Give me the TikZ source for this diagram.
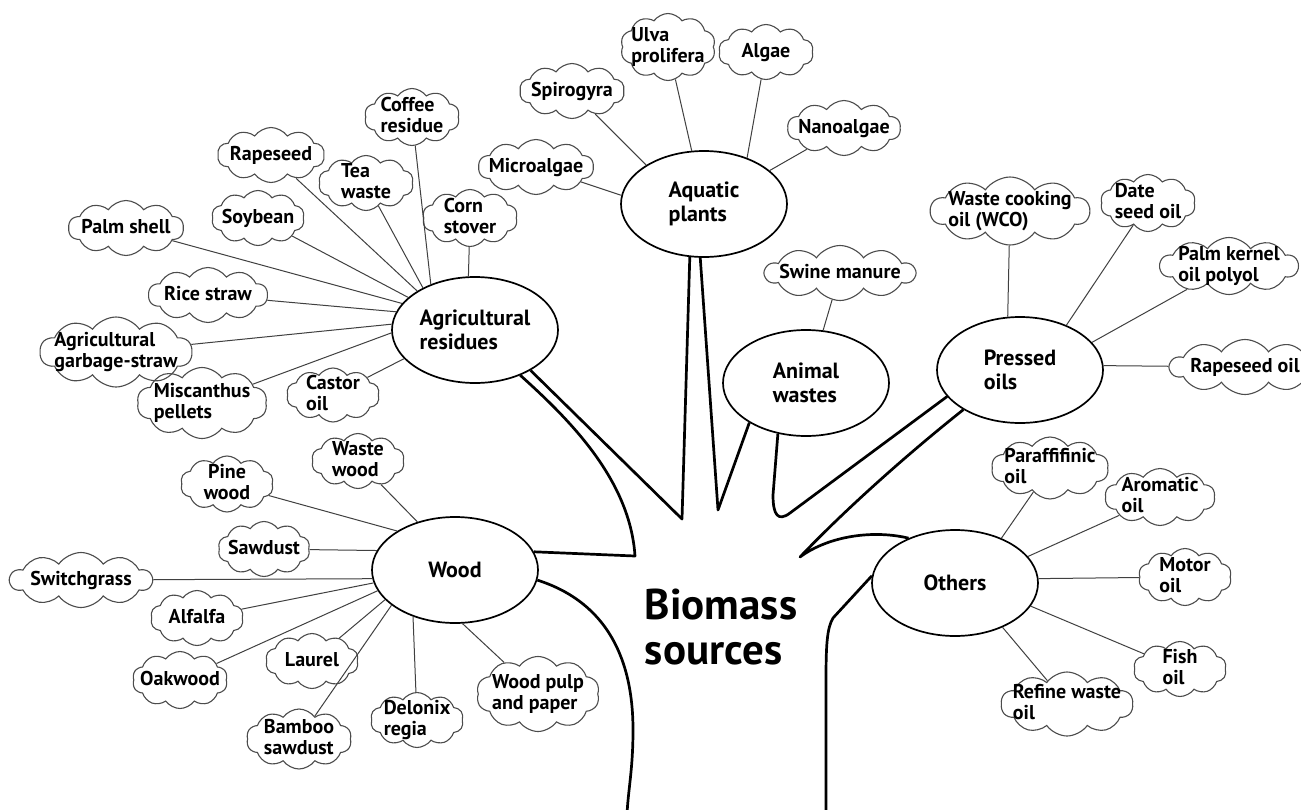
\documentclass[tikz,border=0pt]{standalone}
\usepackage{fontspec}
\setmainfont{PT Sans}
\usetikzlibrary{shapes.geometric,shapes.symbols}

\newcommand{\puffl}[1]{\smash{\raisebox{-6pt}{\makebox[0pt]{\begin{tabular}{@{}l@{}}#1\end{tabular}}}}}
\newcommand{\puffc}[1]{\smash{\raisebox{-6pt}{\makebox[0pt]{\begin{tabular}{@{}c@{}}#1\end{tabular}}}}}

\tikzset{
  group/.style = {draw, ellipse, line width=1.7pt, minimum width=166pt,
    minimum height=106pt, inner sep=0pt, align=left,
    font=\fontsize{22}{24}\selectfont\bfseries},
  puff/.style 2 args = {draw=black!70, cloud, cloud puffs=10,
    cloud puff arc=110, cloud ignores aspect, inner sep=0pt,
    line width=1.1pt, minimum width=#1pt, minimum height=#2pt,
    font=\fontsize{20}{21}\selectfont\bfseries},
  twig/.style = {draw=black!75, line width=1pt},
  trunk/.style = {line width=2.7pt, line join=round},
}

\begin{document}
\begin{tikzpicture}[x=1pt, y=-1pt]
  \useasboundingbox (0,0) rectangle (1301,809);
  \fill[white] (0,0) rectangle (1301,809);

  % groups
  \node[group] (aquatic) at (704,204) {Aquatic\\plants};
  \node[group] (agri) at (475,330) {Agricultural\\residues};
  \node[group] (animal) at (806,383) {Animal\\wastes};
  \node[group] (pressed) at (1020,370) {Pressed\\oils};
  \node[group] (wood) at (455,570) {Wood};
  \node[group] (others) at (955,583) {Others};
  \node[font=\fontsize{43}{45}\selectfont\bfseries, align=left]
    (biomass) at (721,627) {Biomass\\sources};

  % agricultural residues
  \node[puff={95}{57}] (coffee) at (412,117) {\puffl{Coffee\\residue}};
  \node[puff={107}{55}] (rape) at (271,155) {\puffl{Rapeseed}};
  \node[puff={95}{55}] (tea) at (366,183) {\puffl{Tea\\waste}};
  \node[puff={93}{55}] (soy) at (258,218) {\puffl{Soybean}};
  \node[puff={95}{57}] (corn) at (470,218) {\puffl{Corn\\stover}};
  \node[puff={115}{55}] (palm) at (126,228) {\puffl{Palm shell}};
  \node[puff={119}{55}] (rice) at (208,295) {\puffl{Rice straw}};
  \node[puff={152}{70}] (garbage) at (116,352) {\puffl{Agricultural\\garbage-straw}};
  \node[puff={130}{71}] (misc) at (202,403) {\puffl{Miscanthus\\pellets}};
  \node[puff={93}{54}] (castor) at (333,395) {\puffl{Castor\\oil}};

  % aquatic plants
  \node[puff={95}{67}] (ulva) at (668,47) {\puffl{Ulva\\prolifera}};
  \node[puff={95}{55}] (algae) at (766,52) {\puffl{Algae}};
  \node[puff={105}{55}] (spiro) at (572,91) {\puffl{Spirogyra}};
  \node[puff={113}{55}] (nano) at (844,128) {\puffl{Nanoalgae}};
  \node[puff={115}{55}] (micro) at (536,167) {\puffl{Microalgae}};

  % animal wastes
  \node[puff={150}{55}] (swine) at (840,273) {\puffl{Swine manure}};

  % pressed oils
  \node[puff={159}{68}] (wco) at (1010,211) {\puffl{Waste cooking\\oil (WCO)}};
  \node[puff={95}{57}] (date) at (1148,203) {\puffl{Date\\seed oil}};
  \node[puff={138}{57}] (kernel) at (1229,266) {\puffl{Palm kernel\\oil polyol}};
  \node[puff={150}{55}] (rapeoil) at (1245,367) {\puffl{Rapeseed oil}};

  % wood
  \node[puff={93}{55}] (wastewood) at (358,461) {\puffl{Waste\\wood}};
  \node[puff={93}{56}] (pine) at (227,484) {\puffc{Pine\\wood}};
  \node[puff={92}{55}] (sawdust) at (264,549) {\puffl{Sawdust}};
  \node[puff={142}{55}] (switch) at (81,580) {\puffl{Switchgrass}};
  \node[puff={93}{55}] (alfalfa) at (197,618) {\puffl{Alfalfa}};
  \node[puff={93}{55}] (laurel) at (312,661) {\puffl{Laurel}};
  \node[puff={95}{57}] (oak) at (180,680) {\puffl{Oakwood}};
  \node[puff={105}{60}] (bamboo) at (299,739) {\puffl{Bamboo\\sawdust}};
  \node[puff={93}{55}] (delonix) at (417,720) {\puffl{Delonix\\regia}};
  \node[puff={123}{75}] (pulp) at (538,694) {\puffl{Wood pulp\\and paper}};

  % others
  \node[puff={117}{62}] (paraf) at (1050,468) {\puffl{Paraffifinic\\oil}};
  \node[puff={110}{57}] (arom) at (1160,497) {\puffl{Aromatic\\oil}};
  \node[puff={93}{57}] (motor) at (1185,577) {\puffl{Motor\\oil}};
  \node[puff={93}{55}] (fish) at (1180,669) {\puffl{Fish\\oil}};
  \node[puff={132}{64}] (refine) at (1067,704) {\puffl{Refine waste\\oil}};

  % twigs
  \draw[twig] (coffee) -- (agri.134);
  \draw[twig] (rape) -- (agri.146);
  \draw[twig] (tea) -- (agri.141);
  \draw[twig] (soy) -- (agri.154);
  \draw[twig] (corn) -- (agri.97);
  \draw[twig] (palm) -- (agri.160);
  \draw[twig] (rice) -- (agri.167);
  \draw[twig] (garbage) -- (agri.176);
  \draw[twig] (misc) -- (agri.182);
  \draw[twig] (castor) -- (agri.202);

  \draw[twig] (spiro) -- (aquatic.146);
  \draw[twig] (ulva) -- (aquatic.103);
  \draw[twig] (algae) -- (aquatic.47);
  \draw[twig] (nano) -- (aquatic.27);
  \draw[twig] (micro) -- (aquatic.174);

  \draw[twig] (swine) -- (animal.72);

  \draw[twig] (wco) -- (pressed.103);
  \draw[twig] (date) -- (pressed.44);
  \draw[twig] (kernel) -- (pressed.21);
  \draw[twig] (rapeoil) -- (pressed.3);

  \draw[twig] (wastewood) -- (wood.128);
  \draw[twig] (pine) -- (wood.146);
  \draw[twig] (sawdust) -- (wood.166);
  \draw[twig] (switch) -- (wood.186);
  \draw[twig] (alfalfa) -- (wood.189);
  \draw[twig] (oak) -- (wood.195);
  \draw[twig] (laurel) -- (wood.203);
  \draw[twig] (bamboo) -- (wood.209);
  \draw[twig] (delonix) -- (wood.228);
  \draw[twig] (pulp) -- (wood.278);

  \draw[twig] (paraf) -- (others.44);
  \draw[twig] (arom) -- (others.20);
  \draw[twig] (motor) -- (others.3);
  \draw[twig] (fish) -- (others.343);
  \draw[twig] (refine) -- (others.317);

  % trunk
  \coordinate (tipA) at (635,556);
  \coordinate (tipB) at (682,519);
  \coordinate (tipC) at (718,510);
  \coordinate (tipD) at (800,557);
  \draw[trunk] (agri.315) .. controls (570,420) and (630,480) .. (tipA) -- (wood.13);
  \draw[trunk] (agri.324) -- (tipB) -- (aquatic.255);
  \draw[trunk] (aquatic.266) -- (tipC) -- (animal.215);
  \draw[trunk] (animal.241) -- (773,495) .. controls (773,515) and (778,522) .. (790,513) -- (pressed.200);
  \draw[trunk] (pressed.215) .. controls (900,460) and (840,515) .. (tipD)
    .. controls (830,535) and (875,530) .. (others.136);
  \draw[trunk] (others.175) -- (833,618) .. controls (827,628) and (826,645) .. (826,680) -- (826,815);
  \draw[trunk] (wood.353) .. controls (600,600) and (633,650) .. (633,730)
    .. controls (633,770) and (628,790) .. (627,815);
\end{tikzpicture}
\end{document}
